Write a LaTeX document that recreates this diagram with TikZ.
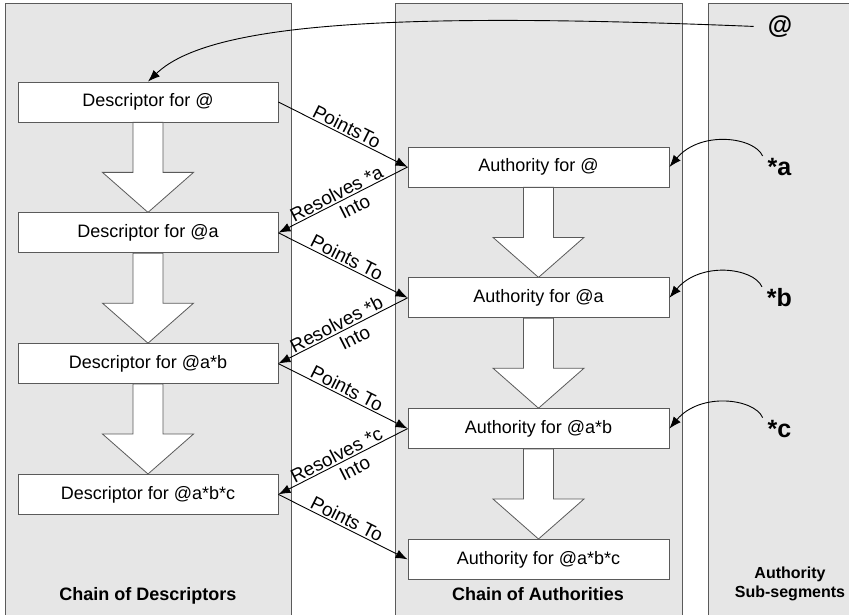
\documentclass[tikz,border=0pt]{standalone}
\usepackage{fontspec}
\setmainfont{Liberation Sans}
\usetikzlibrary{arrows.meta,positioning,calc}
\definecolor{lanegray}{HTML}{E6E6E6}
\definecolor{edgegray}{HTML}{5A5A5A}

\begin{document}
\begin{tikzpicture} [
    x = 1pt, y = -1pt,
    lane/.style = { draw = edgegray, fill = lanegray, line width = 1pt },
    box/.style = { draw = edgegray, fill = white, line width = 0.8pt, minimum width = 260pt, minimum height = 40pt, inner sep = 0, font = \fontsize{18}{22}\selectfont },
    link/.style = { -{Latex[length=12pt,width=9pt]}, line width = 0.9pt },
    tag/.style = { font = \fontsize{19}{22}\selectfont, inner sep = 1.5pt },
    seg/.style = { font = \bfseries\fontsize{25}{29}\selectfont, inner sep = 0 },
    lanename/.style = { font = \bfseries\fontsize{18}{21}\selectfont, align = center }
    ]
  \clip (0,0) rectangle (849,615);
  \fill[white] (0,0) rectangle (849,615);

  % lanes
  \draw[lane] (5,4) rectangle (291,640);
  \draw[lane] (395,4) rectangle (682,640);
  \draw[lane] (708,4) rectangle (880,640);

  \node[lanename] (ldesc) at (148,596) {Chain of Descriptors};
  \node[lanename] (lauth) at (538,594) {Chain of Authorities};
  \node[lanename, font = \bfseries\fontsize{16}{19}\selectfont] (lseg) at (790,584) {Authority\\Sub-segments};

  % descriptors
  \node[box] (d1) at (148,102) {Descriptor for @};
  \node[box, below = 90pt of d1] (d2) {Descriptor for @a};
  \node[box, below = 90pt of d2] (d3) {Descriptor for @a*b};
  \node[box, below = 90pt of d3] (d4) {Descriptor for @a*b*c};

  % authorities
  \node[box, minimum width = 261pt] (a1) at (538.5,167) {Authority for @};
  \node[box, minimum width = 261pt, below = 90pt of a1] (a2) {Authority for @a};
  \node[box, minimum width = 261pt, below = 90pt of a2] (a3) {Authority for @a*b};
  \node[box, minimum width = 261pt, below = 90pt of a3] (a4) {Authority for @a*b*c};

  % fat arrows
  \foreach \a/\b in {d1/d2, d2/d3, d3/d4, a1/a2, a2/a3, a3/a4}
    \draw[edgegray, fill = white, line width = 0.8pt]
      ($(\a.south)+(-15,0)$) -- ($(\a.south)+(15,0)$) -- ($(\a.south)+(15,50)$)
      -- ($(\a.south)+(45.5,50)$) -- (\b.north) -- ($(\a.south)+(-45.5,50)$)
      -- ($(\a.south)+(-15,50)$) -- cycle;

  % links between the chains
  \draw[link] (d1.east) -- node[tag, sloped, above] {PointsTo} (a1.west);
  \foreach \d/\t in {d2/a2, d3/a3, d4/a4}
    \draw[link] (\d.east) -- node[tag, sloped, above] {Points To} (\t.west);
  \foreach \t/\d/\s in {a1/d2/a, a2/d3/b, a3/d4/c}
    \draw[link] (\t.west) -- node[tag, sloped, above, pos = 0.52] {Resolves *\s}
      node[tag, sloped, below = 3pt, pos = 0.45] {Into} (\d.east);

  % sub-segments
  \node[seg] (sat) at (780,27) {@};
  \draw[link, shorten <= 14pt] (sat.west) .. controls (400,12) and (210,22) .. (d1.north);
  \foreach \t/\s/\n in {a1/sa/a, a2/sb/b, a3/sc/c} {
    \node[seg] (\s) at ($(\t.east)+(110,0)$) {*\n};
    \draw[link, shorten <= 12pt] (\s.west) .. controls +(-13,-30) and +(31,-37) .. (\t.east);
  }
\end{tikzpicture}
\end{document}
